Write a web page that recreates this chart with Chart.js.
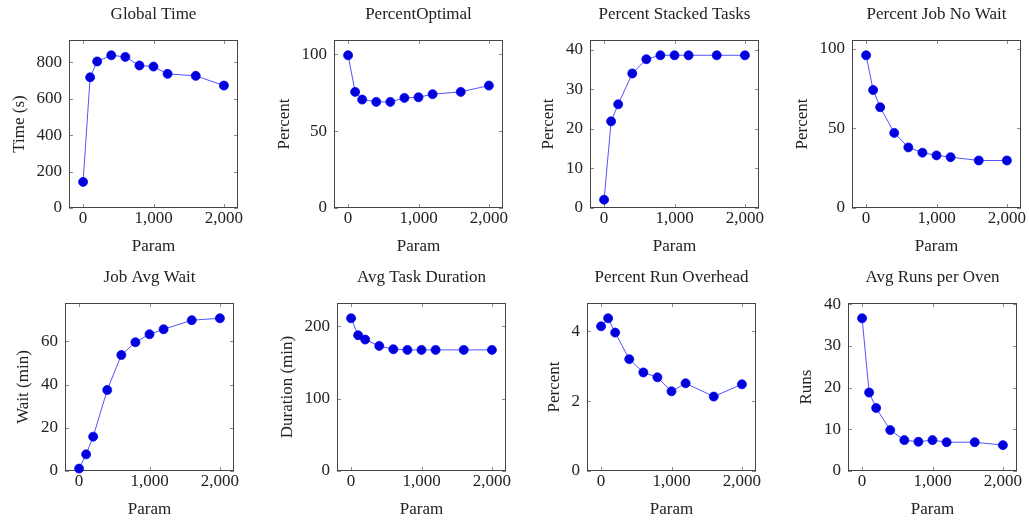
<!DOCTYPE html>
<html>
<head>
<meta charset="utf-8">
<script src="https://cdn.jsdelivr.net/npm/chart.js@4.4.0/dist/chart.umd.min.js"></script>
<style>
  body { margin: 0; background: #fff; overflow: hidden; width: 1029px; height: 521px; position: relative; }
  .panel { position: absolute; }
</style>
</head>
<body>
<script>
// x values shared by every panel
const params = [0, 100, 200, 400, 600, 800, 1000, 1200, 1600, 2000];
const xTicks = [0, 1000, 2000];

// series
const globalTime      = [143, 717, 804, 838, 829, 782, 776, 736, 725, 672];
const percentOptimal  = [99.3, 75.5, 70.5, 69, 69, 71.6, 72, 74, 75.5, 79.6];
const percentStacked  = [2.1, 21.9, 26.2, 34, 37.6, 38.6, 38.6, 38.6, 38.6, 38.6];
const percentNoWait   = [95.8, 74, 63.2, 47.1, 38, 34.7, 33, 31.9, 29.8, 29.8];
const jobAvgWait      = [1.1, 7.7, 15.9, 37.5, 53.7, 59.6, 63.3, 65.6, 69.8, 70.7];
const avgTaskDuration = [211, 187.6, 181.6, 172.8, 168.2, 167.3, 167.3, 167.3, 167.3, 167.3];
const runOverhead     = [4.14, 4.37, 3.96, 3.2, 2.82, 2.68, 2.28, 2.51, 2.13, 2.48];
const runsPerOven     = [36.6, 18.8, 15.1, 9.8, 7.4, 7.0, 7.4, 6.9, 6.9, 6.2];

const titles  = ['Global Time', 'PercentOptimal', 'Percent Stacked Tasks', 'Percent Job No Wait',
                 'Job Avg Wait', 'Avg Task Duration', 'Percent Run Overhead', 'Avg Runs per Oven'];
const yLabels = ['Time (s)', 'Percent', 'Percent', 'Percent', 'Wait (min)', 'Duration (min)', 'Percent', 'Runs'];
const yTicks  = [[0, 200, 400, 600, 800], [0, 50, 100], [0, 10, 20, 30, 40], [0, 50, 100],
                 [0, 20, 40, 60], [0, 100, 200], [0, 2, 4], [0, 10, 20, 30, 40]];
const series  = [globalTime, percentOptimal, percentStacked, percentNoWait,
                 jobAvgWait, avgTaskDuration, runOverhead, runsPerOven];

// where each plot box sits on the page
const plotLeft = [69, 334, 590, 852, 65, 337, 587, 848];
const plotTop  = [40, 40, 40, 40, 303, 303, 303, 303];
const plotW = 169, plotH = 168;
const yAxisW = 68, titleH = 40, xAxisH = 50, padRight = 8;

const FONT = '"Liberation Serif", "Times New Roman", serif';
Chart.defaults.font.family = FONT;
Chart.defaults.font.size = 17;
Chart.defaults.color = '#222';

const fmt = v => v.toLocaleString('en-US');

// box with small inward ticks on all four sides, like pgfplots
const boxTicks = {
  id: 'boxTicks',
  beforeDatasetsDraw(chart) {
    const { ctx, chartArea: a, scales: { x, y } } = chart;
    ctx.save();
    ctx.strokeStyle = '#8a8a8a';
    ctx.lineWidth = 1;
    ctx.beginPath();
    x.ticks.forEach(t => {
      const px = Math.round(x.getPixelForValue(t.value)) + 0.5;
      ctx.moveTo(px, a.bottom); ctx.lineTo(px, a.bottom - 4);
      ctx.moveTo(px, a.top); ctx.lineTo(px, a.top + 4);
    });
    y.ticks.forEach(t => {
      const py = Math.round(y.getPixelForValue(t.value)) + 0.5;
      ctx.moveTo(a.left, py); ctx.lineTo(a.left + 4, py);
      ctx.moveTo(a.right, py); ctx.lineTo(a.right - 4, py);
    });
    ctx.stroke();
    ctx.strokeStyle = '#444';
    ctx.strokeRect(Math.round(a.left) + 0.5, Math.round(a.top) + 0.5, Math.round(a.width) - 1, Math.round(a.height) - 1);
    ctx.restore();
  }
};

const measure = document.createElement('canvas').getContext('2d');
measure.font = '17px ' + FONT;

series.forEach((values, i) => {
  const div = document.createElement('div');
  div.className = 'panel';
  div.style.left = (plotLeft[i] - yAxisW) + 'px';
  div.style.top = (plotTop[i] - titleH) + 'px';
  const canvas = document.createElement('canvas');
  canvas.width = yAxisW + plotW + padRight;
  canvas.height = titleH + plotH + xAxisH;
  div.appendChild(canvas);
  document.body.appendChild(div);

  const tickW = Math.max(...yTicks[i].map(v => measure.measureText(fmt(v)).width));
  const yTitlePad = Math.max(yAxisW - 7 - tickW - 17 - 10.2, 0);

  new Chart(canvas, {
    type: 'line',
    data: {
      datasets: [{
        data: params.map((p, k) => ({ x: p, y: values[k] })),
        borderColor: 'rgba(40,40,255,0.8)',
        borderWidth: 1,
        pointRadius: 4.5,
        pointBackgroundColor: '#0000d8',
        pointBorderColor: '#0000ff',
        pointBorderWidth: 0.8,
        tension: 0,
        clip: false
      }]
    },
    options: {
      responsive: false,
      animation: false,
      devicePixelRatio: 1,
      layout: { padding: { left: 0, right: padRight, top: 0, bottom: 0 } },
      plugins: {
        legend: { display: false },
        tooltip: { enabled: false },
        title: {
          display: true, text: titles[i], fullSize: false,
          padding: { top: 4.5, bottom: 15.1 },
          font: { size: 17, weight: 'normal' }, color: '#222'
        }
      },
      scales: {
        x: {
          type: 'linear', min: -200, max: 2200, bounds: 'data',
          afterBuildTicks: s => { s.ticks = xTicks.map(v => ({ value: v })); },
          afterFit: s => { s.height = xAxisH; s.paddingLeft = 0; s.paddingRight = 0; },
          ticks: { padding: 0, maxRotation: 0, callback: v => fmt(v) },
          grid: { display: false, drawTicks: false },
          border: { display: false },
          title: { display: true, text: 'Param', padding: { top: 0, bottom: 1.3 } }
        },
        y: {
          type: 'linear', min: 0, max: Math.max(...values) * 1.1, bounds: 'data',
          afterBuildTicks: s => { s.ticks = yTicks[i].map(v => ({ value: v })); },
          afterFit: s => { s.width = yAxisW; s.paddingTop = 0; s.paddingBottom = 0; },
          ticks: { padding: 7, callback: v => fmt(v) },
          grid: { display: false, drawTicks: false },
          border: { display: false },
          title: { display: true, text: yLabels[i], padding: { top: yTitlePad, bottom: 0 } }
        }
      }
    },
    plugins: [boxTicks]
  });
});
</script>
</body>
</html>
